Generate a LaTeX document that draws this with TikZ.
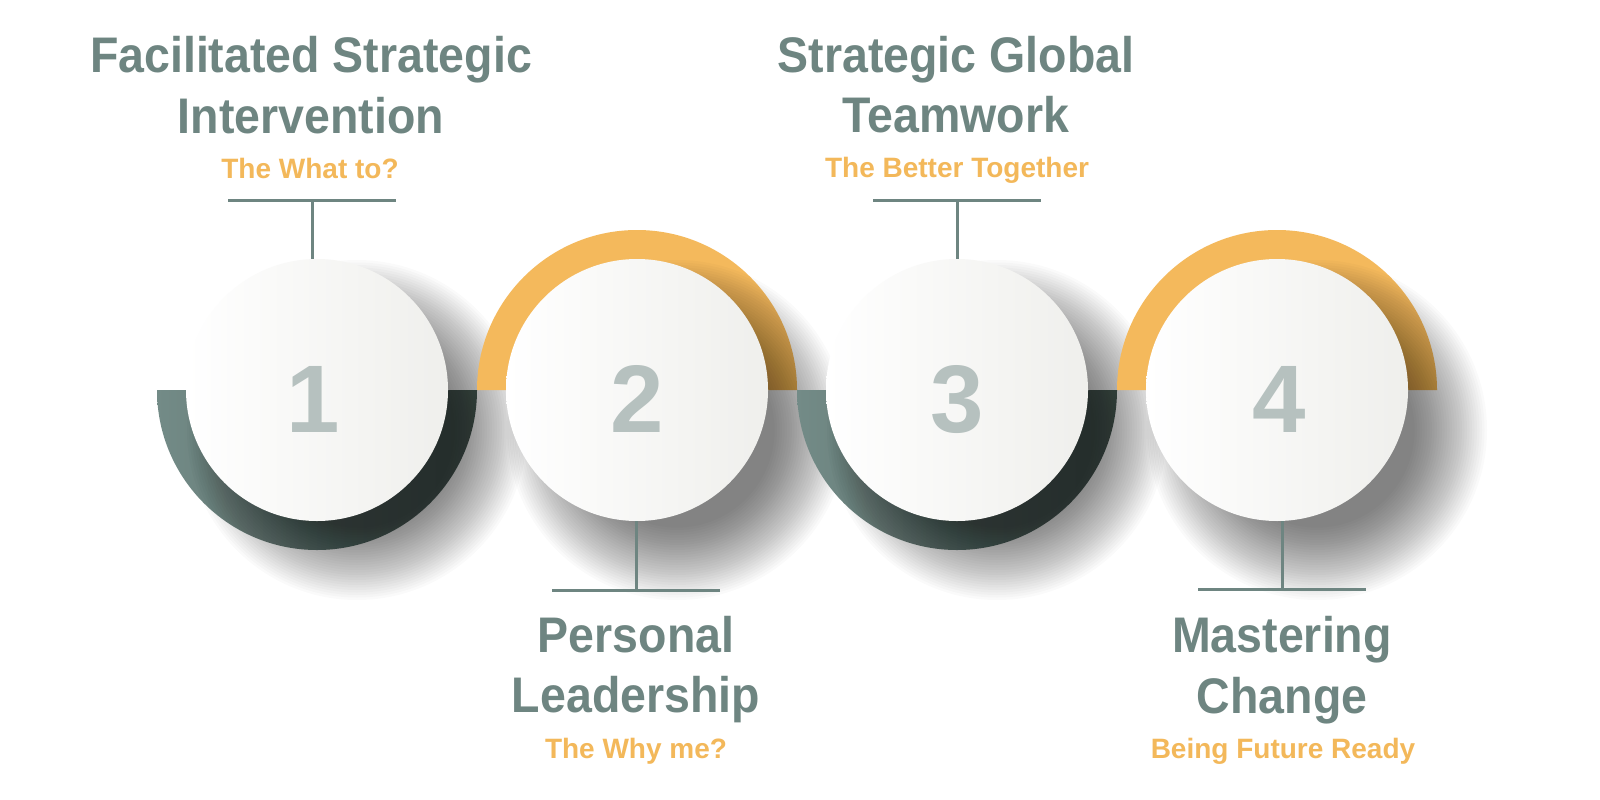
\documentclass[tikz,border=0pt]{standalone}
\usepackage{fontspec}
\setmainfont{Liberation Sans}
\newfontfamily\titlefont{Liberation Sans}[FakeStretch=0.93]
\definecolor{titlegray}{HTML}{6E8581}
\definecolor{suborange}{HTML}{F3B85A}
\definecolor{ringorange}{HTML}{F4B95C}
\definecolor{ringlight}{HTML}{738B87}
\definecolor{ringdark}{HTML}{50625D}
\definecolor{discgray}{HTML}{EFEFEC}
\definecolor{digitgray}{HTML}{B6C1BF}
\newcommand\castshadow[2]{\foreach \k in {0,...,29}{\fill[shadowstep] (#1,#2) circle ({170-2.5*\k});}}
\begin{document}
\begin{tikzpicture}[x=1pt,y=-1pt,
  title/.style={font=\titlefont\bfseries\fontsize{50}{60}\selectfont, text=titlegray, anchor=base, inner sep=0pt},
  sub/.style={font=\bfseries\fontsize{28}{34}\selectfont, text=suborange, anchor=base, inner sep=0pt},
  disc/.style={circle, minimum size=262pt, inner sep=0pt, left color=white, right color=discgray},
  shadowstep/.style={fill=black, fill opacity=0.019},
  digit/.style={font=\bfseries\fontsize{96}{96}\selectfont, text=digitgray, anchor=base, inner sep=0pt},
  bar/.style={draw=titlegray, line width=3pt}
]
\useasboundingbox[fill=white] (0,0) rectangle (1600,800);

% ring 1 + disc 1
\shade[left color=ringlight, right color=ringdark] (157,390) arc[start angle=180, end angle=0, radius=160] -- cycle;
\castshadow{357}{430}
\node[disc] (c1) at (317,390) {};
% ring 2 + disc 2
\fill[ringorange] (477,390) arc[start angle=180, end angle=360, radius=160] -- cycle;
\castshadow{677}{430}
\node[disc] (c2) at (637,390) {};
% ring 3 + disc 3
\shade[left color=ringlight, right color=ringdark] (797,390) arc[start angle=180, end angle=0, radius=160] -- cycle;
\castshadow{997}{430}
\node[disc] (c3) at (957,390) {};
% ring 4 + disc 4
\fill[ringorange] (1117,390) arc[start angle=180, end angle=360, radius=160] -- cycle;
\castshadow{1317}{430}
\node[disc] (c4) at (1277,390) {};

% digits
\node[digit] (d1) at (313,432) {1};
\node[digit] (d2) at (637,432) {2};
\node[digit] (d3) at (957,432) {3};
\node[digit] (d4) at (1279,432) {4};

% connectors
\coordinate (b1) at (312,200);
\coordinate (b2) at (636,590);
\coordinate (b3) at (957,200);
\coordinate (b4) at (1282,589);
\draw[bar] ([xshift=-84pt]b1) -- ([xshift=84pt]b1);
\draw[bar] (b1) -- (b1 |- c1.north);
\draw[bar] ([xshift=-84pt]b3) -- ([xshift=84pt]b3);
\draw[bar] (b3) -- (b3 |- c3.north);
\draw[bar] ([xshift=-84pt]b2) -- ([xshift=84pt]b2);
\draw[bar] (b2) -- (b2 |- c2.south);
\draw[bar] ([xshift=-84pt]b4) -- ([xshift=84pt]b4);
\draw[bar] (b4) -- (b4 |- c4.south);

% texts
\node[title] (t1a) at (311,73) {Facilitated Strategic};
\node[title] (t1b) at (311,133) {Intervention};
\node[sub] (s1) at (310,178) {The What to?};
\node[title] (t3a) at (956,72) {Strategic Global};
\node[title] (t3b) at (956,132) {Teamwork};
\node[sub] (s3) at (957,177) {The Better Together};
\node[title] (t2a) at (636,652) {Personal};
\node[title] (t2b) at (636,712) {Leadership};
\node[sub] (s2) at (636,758) {The Why me?};
\node[title] (t4a) at (1282,652) {Mastering};
\node[title] (t4b) at (1282,713) {Change};
\node[sub] (s4) at (1283,758) {Being Future Ready};
\end{tikzpicture}
\end{document}
